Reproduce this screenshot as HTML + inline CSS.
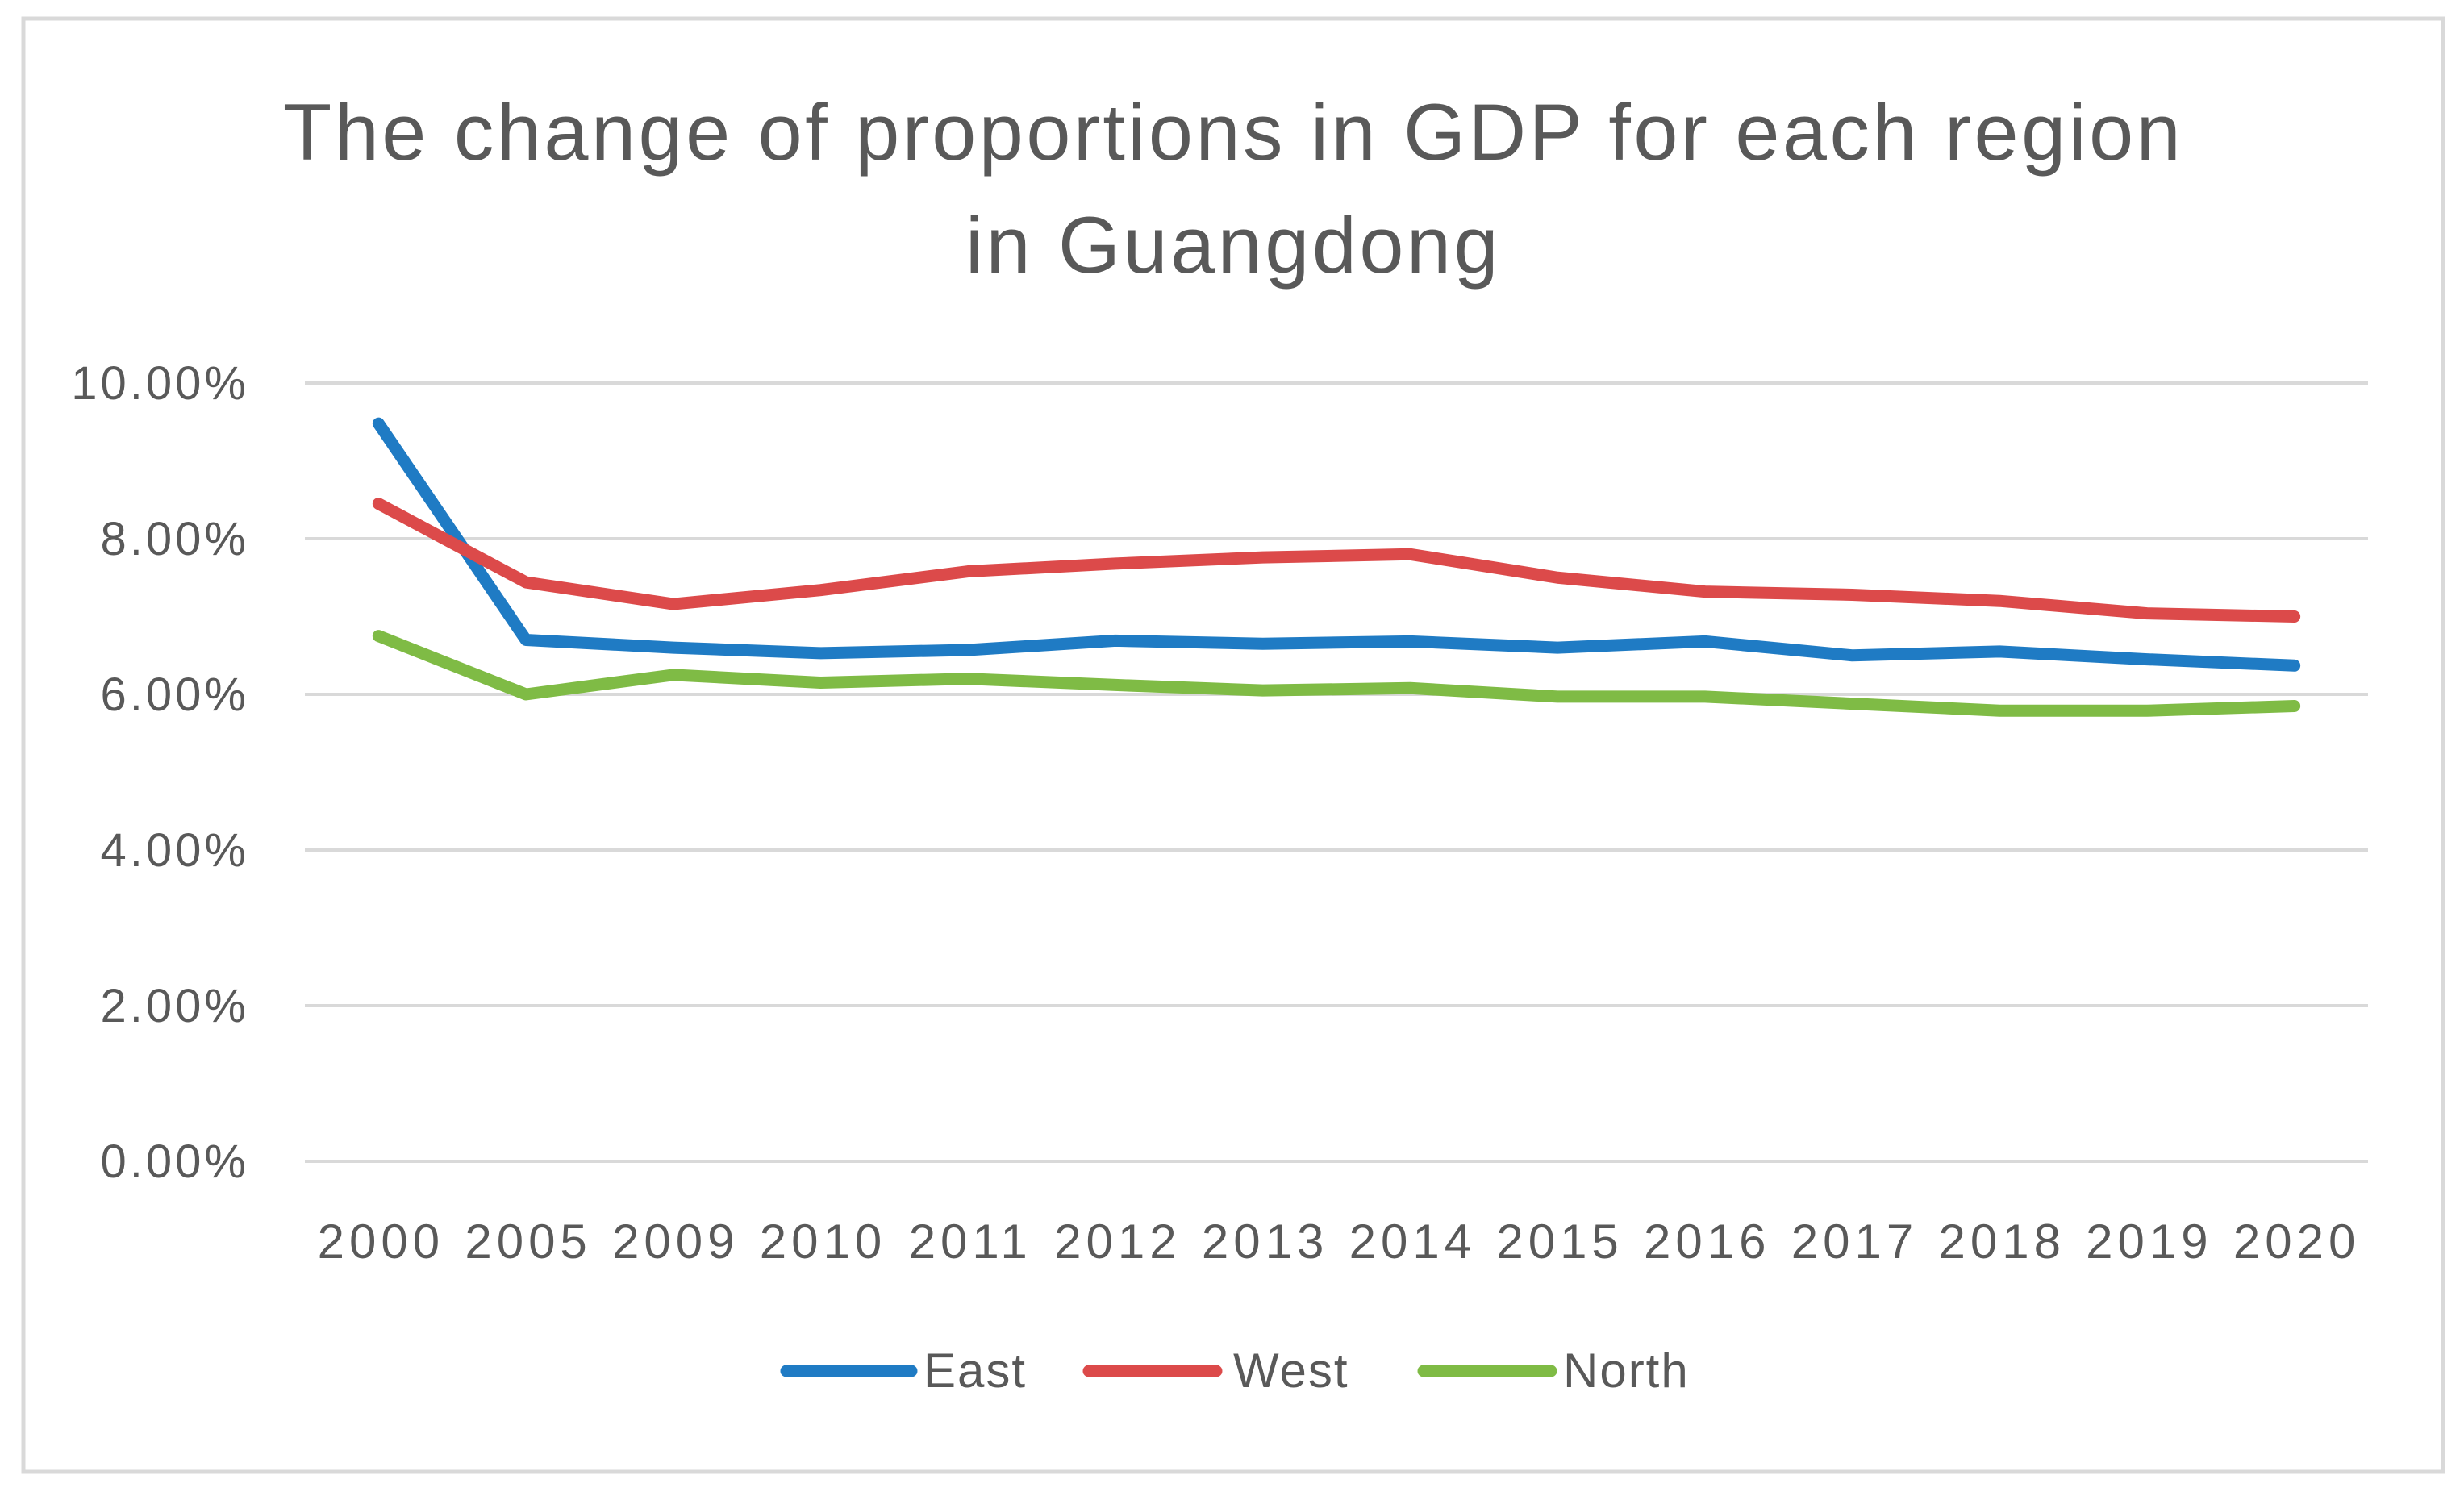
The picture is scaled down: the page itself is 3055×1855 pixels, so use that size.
<!DOCTYPE html>
<html><head><meta charset="utf-8"><style>
body{margin:0;background:#fff;}
svg{display:block;font-family:"Liberation Sans",sans-serif;}
</style></head><body>
<svg id="chart" width="3055" height="1855" viewBox="0 0 3055 1855">
<rect x="29" y="23" width="3000" height="1802" fill="#fff" stroke="#d9d9d9" stroke-width="5"/>
<text x="1529" y="198" text-anchor="middle" font-size="99" letter-spacing="3.5" fill="#595959">The change of proportions in GDP for each region</text>
<text x="1529" y="338" text-anchor="middle" font-size="99" letter-spacing="3.5" fill="#595959">in Guangdong</text>
<g id="grid"></g><g id="yt"></g><g id="xt"></g><g id="lines"></g>
<g>
<line x1="975" y1="1700" x2="1130" y2="1700" stroke="#1f7bc4" stroke-width="15" stroke-linecap="round"/>
<text x="1145" y="1720" font-size="60" letter-spacing="2" fill="#595959">East</text>
<line x1="1350" y1="1700" x2="1508" y2="1700" stroke="#dc4a4a" stroke-width="15" stroke-linecap="round"/>
<text x="1529" y="1720" font-size="60" letter-spacing="2" fill="#595959">West</text>
<line x1="1765" y1="1700" x2="1923" y2="1700" stroke="#7fbb45" stroke-width="15" stroke-linecap="round"/>
<text x="1938" y="1720" font-size="60" letter-spacing="2" fill="#595959">North</text>
</g>
</svg>
<script>
const categories=["2000","2005","2009","2010","2011","2012","2013","2014","2015","2016","2017","2018","2019","2020"];
const east=[9.48,6.70,6.60,6.53,6.57,6.69,6.65,6.68,6.60,6.68,6.50,6.55,6.45,6.37];
const west=[8.45,7.44,7.16,7.34,7.58,7.68,7.76,7.80,7.50,7.32,7.28,7.20,7.04,7.00];
const north=[6.75,6.00,6.25,6.15,6.20,6.12,6.05,6.08,5.97,5.97,5.88,5.79,5.79,5.85];
const yTicks=[0,2,4,6,8,10];
const yTickLabels=["0.00%","2.00%","4.00%","6.00%","8.00%","10.00%"];
const NS="http://www.w3.org/2000/svg";
const L=378,R=2936,T=475,B=1440;
const band=(R-L)/categories.length;
const x=i=>L+band*(i+0.5);
const y=v=>B-(v/10)*(B-T);
function mk(tag,attrs,parent){const e=document.createElementNS(NS,tag);for(const k in attrs)e.setAttribute(k,attrs[k]);document.getElementById(parent).appendChild(e);return e;}
yTicks.forEach((v,i)=>{
 const g=mk("line",{x1:L,x2:R,y1:y(v),y2:y(v),stroke:"#d9d9d9","stroke-width":4},"grid");
 
 
 const t=mk("text",{x:309,y:y(v)+20,"text-anchor":"end","font-size":58,"letter-spacing":4,fill:"#595959"},"yt");
 t.textContent=yTickLabels[i];
 
 
});
categories.forEach((c,i)=>{
 const t=mk("text",{x:x(i)+3,y:1560,"text-anchor":"middle","font-size":60,"letter-spacing":6,fill:"#595959"},"xt");
 t.textContent=c;
 
 
});
[[east,"#1f7bc4","east-line"],[west,"#dc4a4a","west-line"],[north,"#7fbb45","north-line"]].forEach(([d,col,n])=>{
 const p=mk("polyline",{points:d.map((v,i)=>x(i)+","+y(v)).join(" "),fill:"none",stroke:col,"stroke-width":15,"stroke-linejoin":"round","stroke-linecap":"round"},"lines");
 
 
});
</script>
</body></html>
